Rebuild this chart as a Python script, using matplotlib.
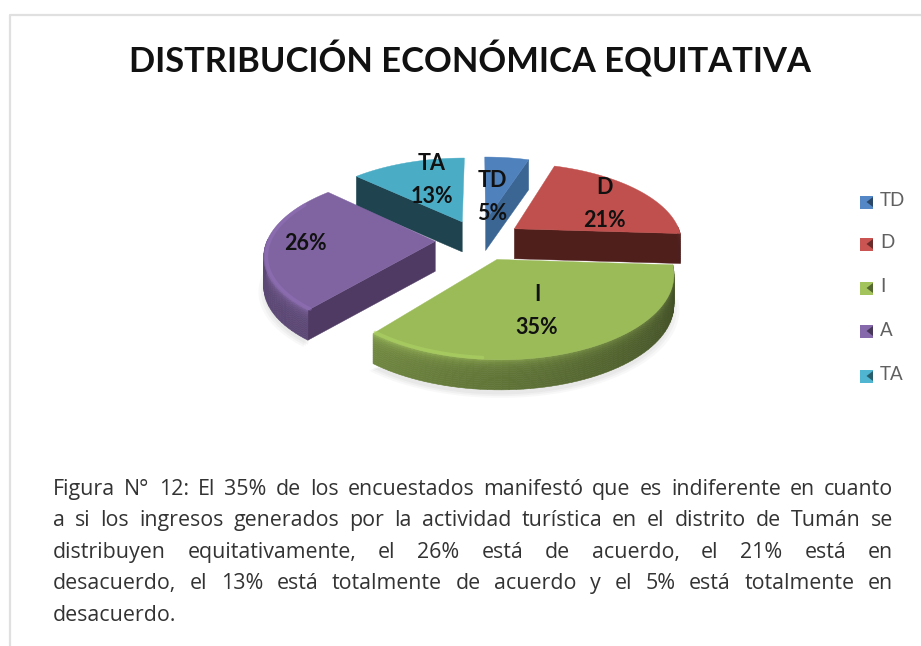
import matplotlib
matplotlib.use('AGG')

import matplotlib.pyplot as plt
from matplotlib.colors import to_rgb
import numpy as np

title = 'DISTRIBUCIÓN ECONÓMICA EQUITATIVA'
categories = ['TD', 'D', 'I', 'A', 'TA']
values = [5, 21, 35, 26, 13]
slice_labels = ['TD\n5%', 'D\n21%', 'I\n35%', '26%', 'TA\n13%']
colors = ['#4f81bd', '#c0504d', '#9bbb59', '#8064a2', '#4bacc6']
wall_colors = ['#3b6593', '#4f1f1c', '#4f6228', '#4f3a63', '#1f444f']
caption = [
    'Figura N° 12: El 35% de los encuestados manifestó que es indiferente en cuanto',
    'a si los ingresos generados por la actividad turística en el distrito de Tumán se',
    'distribuyen equitativamente, el 26% está de acuerdo, el 21% está en',
    'desacuerdo, el 13% está totalmente de acuerdo y el 5% está totalmente en',
    'desacuerdo.',
]

# pixel positions for the text
label_pos = [(492, 197), (604, 204), (537, 311), (305, 244), (432, 180)]
legend_y = [202, 244, 288, 331, 376]
caption_y = [487, 518, 550, 581, 613]

# fake 3d pie settings
cx, cy = 479, 240
R = 168
Rt = 78.6
persp = 0.1515
explode = 0.26
depth = 30


def project(u, v, z=0):
    s = 1 / (1 + persp * v)
    return cx + R * u * s, cy - Rt * v * s + depth * z


def shade(col, f):
    return tuple(min(1, c * f) for c in to_rgb(col))


fig = plt.figure(figsize=(9.21, 6.46), dpi=100)
ax = fig.add_axes([0, 0, 1, 1])
ax.set_xlim(0, 921)
ax.set_ylim(646, 0)
ax.axis('off')

# page border
ax.plot([9.5, 9.5, 921], [646, 14.5, 14.5], color='#e0e0e0', lw=1.6)

ax.text(470, 60, title, ha='center', va='center', fontsize=24.85,
        family='Lato', weight='bold', color='#111111')

bounds = np.cumsum([0] + values) / sum(values) * 360

# shadow under the front slices
for grow, alpha in [(1.03, 0.05), (1.015, 0.06), (1.0, 0.07)]:
    for i in [2, 3]:
        t = np.radians(np.linspace(bounds[i], bounds[i + 1], 60))
        mid = np.radians((bounds[i] + bounds[i + 1]) / 2)
        ox, oy = explode * np.sin(mid), explode * np.cos(mid)
        xs, ys = project(ox + grow * np.sin(t), oy + grow * np.cos(t), 1.15)
        ax.fill(xs, ys, color='#808080', alpha=alpha, lw=0)

# slices, back to front
nbands = 14
for i in [4, 0, 1, 3, 2]:
    a0, a1 = bounds[i], bounds[i + 1]
    mid = np.radians((a0 + a1) / 2)
    ox, oy = explode * np.sin(mid), explode * np.cos(mid)
    col = colors[i]

    # flat walls along the cut edges
    for ang, seen in [(a0, np.sin(np.radians(a0)) < -1e-6),
                      (a1, np.sin(np.radians(a1)) > 1e-6)]:
        if not seen:
            continue
        r = np.radians(ang)
        ex, ey = ox + np.sin(r), oy + np.cos(r)
        x1, y1 = project(ox, oy)
        x2, y2 = project(ex, ey)
        x3, y3 = project(ex, ey, 1)
        x4, y4 = project(ox, oy, 1)
        ax.fill([x1, x2, x3, x4], [y1, y2, y3, y4], color=wall_colors[i], lw=0.3)

    # outer rim, shaded by angle and height
    angs = np.arange(a0, a1 + 2, 2.0)
    angs[-1] = a1
    zs = np.linspace(0, 1, nbands + 1)
    for a, b in zip(angs[:-1], angs[1:]):
        if np.cos(np.radians((a + b) / 2)) > 0.03:
            continue
        base = 0.4 + np.clip(((a + b) / 2 - 95) / 125, 0, 1) * 0.32
        for z0, z1 in zip(zs[:-1], zs[1:]):
            f = base * (1 + 0.3 * np.exp(-z0 * 6))
            ra, rb = np.radians(a), np.radians(b)
            xa, ya = ox + np.sin(ra), oy + np.cos(ra)
            xb, yb = ox + np.sin(rb), oy + np.cos(rb)
            p1 = project(xa, ya, z0)
            p2 = project(xb, yb, z0)
            p3 = project(xb, yb, z1)
            p4 = project(xa, ya, z1)
            fc = shade(col, f)
            ax.fill([p1[0], p2[0], p3[0], p4[0]], [p1[1], p2[1], p3[1], p4[1]],
                    color=fc, lw=0.4)

    # top face
    t = np.radians(np.linspace(a0, a1, 80))
    us = np.r_[ox, ox + np.sin(t)]
    vs = np.r_[oy, oy + np.cos(t)]
    xs, ys = project(us, vs)
    ax.fill(xs, ys, color=col, lw=0.3)

    # lighter bevel round the outer edge, on the left side only
    if a1 > 185 and a0 < 300:
        t = np.radians(np.linspace(max(a0, 185), min(a1, 300), 60))
        xs, ys = project(ox + 0.985 * np.sin(t), oy + 0.985 * np.cos(t))
        ax.plot(xs, ys, color=shade(col, 1.15), lw=2.5, alpha=0.5,
                solid_capstyle='round')

# slice labels
for lab, (x, y) in zip(slice_labels, label_pos):
    ax.text(x, y, lab, ha='center', va='center', fontsize=15.5, family='Lato',
            weight='bold', color='#111111', linespacing=1.65)

# legend
for name, col, y in zip(categories, colors, legend_y):
    ax.fill([860, 873, 873, 860], [y - 6.5, y - 6.5, y + 6.5, y + 6.5],
            color=shade(col, 1.05), lw=0)
    ax.fill([873, 873, 866.5], [y - 5, y + 5, y], color=shade(col, 0.55), lw=0)
    ax.text(880, y - 1, name, ha='left', va='center', fontsize=13.5,
            family='Lato', color='#606060')

# caption, justified word by word
renderer = fig.canvas.get_renderer()
left, right = 53, 893
for n, (line, y) in enumerate(zip(caption, caption_y)):
    words = line.split(' ')
    items = [ax.text(0, y, w, ha='left', va='center_baseline', fontsize=15.4,
                     family='Open Sans', color='#333333') for w in words]
    widths = [it.get_window_extent(renderer).width for it in items]
    if n == len(caption) - 1:
        gap = 6
    else:
        gap = (right - left - sum(widths)) / (len(words) - 1)
    x = left
    for it, w in zip(items, widths):
        it.set_x(x)
        x += w + gap

fname = 'out.png'
plt.savefig(fname, dpi=100)
